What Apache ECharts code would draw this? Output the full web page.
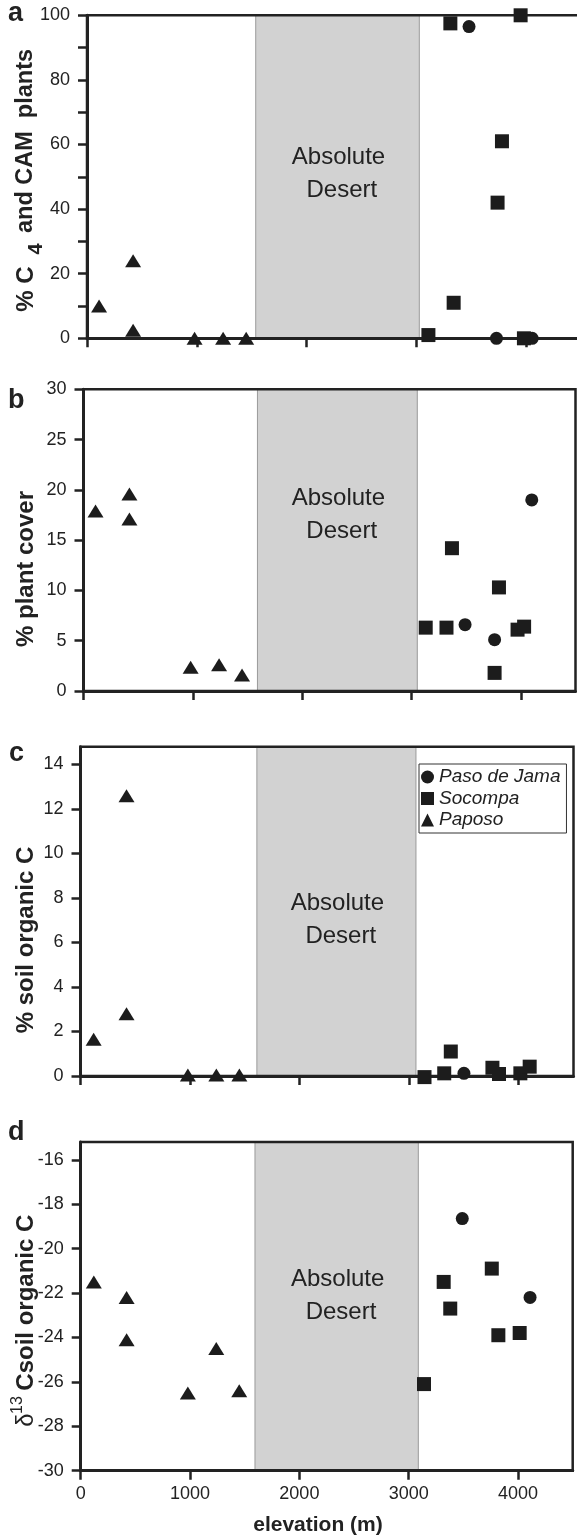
<!DOCTYPE html>
<html>
<head>
<meta charset="utf-8">
<script src="https://cdn.jsdelivr.net/npm/echarts@6/dist/echarts.min.js"></script>
<style>
html,body{margin:0;padding:0;background:#fff;}
#chart{width:577px;height:1538px;}
</style>
</head>
<body>
<div id="chart"></div>
<script>
// ---- shared axes / tick labels ----
const elevTicks = [0, 1000, 2000, 3000, 4000];
const siteNames = ['Paso de Jama', 'Socompa', 'Paposo'];

// ---- panel a: % C4 and CAM plants ----
const aDesert = [1537, 3027];
const aTicks = [0, 10, 20, 30, 40, 50, 60, 70, 80, 90, 100];
const aLabels = [0, 20, 40, 60, 80, 100];
const aPasoElev = [3480, 3730, 4055];
const aPasoVal = [96.5, 0, 0];
const aSocElev = [3110, 3310, 3340, 3740, 3780, 3950, 3980];
const aSocVal = [1, 97.5, 11, 42, 61, 100, 0];
const aPapElev = [110, 420, 420, 980, 1240, 1450];
const aPapVal = [10, 24, 2.5, 0, 0, 0];

// ---- panel b: % plant cover ----
const bDesert = [1591, 3053];
const bTicks = [0, 5, 10, 15, 20, 25, 30];
const bPasoElev = [3490, 3760, 4100];
const bPasoVal = [6.6, 5.1, 19];
const bSocElev = [3130, 3320, 3370, 3760, 3800, 3970, 4030];
const bSocVal = [6.3, 6.3, 14.2, 1.8, 10.3, 6.1, 6.4];
const bPapElev = [110, 420, 420, 980, 1240, 1450];
const bPapVal = [17.9, 19.6, 17.1, 2.35, 2.6, 1.6];

// ---- panel c: % soil organic C ----
const cDesert = [1610, 3062];
const cTicks = [0, 2, 4, 6, 8, 10, 12, 14];
const cPasoElev = [3500];
const cPasoVal = [0.12];
const cSocElev = [3140, 3320, 3380, 3760, 3820, 4015, 4100];
const cSocVal = [-0.05, 0.12, 1.1, 0.37, 0.09, 0.12, 0.42];
const cPapElev = [120, 420, 420, 980, 1240, 1450];
const cPapVal = [1.65, 12.6, 2.8, 0.05, 0.05, 0.05];

// ---- panel d: d13C soil organic C ----
const dDesert = [1594, 3088];
const dTicks = [-30, -28, -26, -24, -22, -20, -18, -16];
const dPasoElev = [3490, 4110];
const dPasoVal = [-18.65, -22.2];
const dSocElev = [3140, 3320, 3380, 3760, 3820, 4015];
const dSocVal = [-26.1, -21.5, -22.7, -20.9, -23.9, -23.8];
const dPapElev = [120, 420, 420, 980, 1240, 1450];
const dPapVal = [-21.5, -22.2, -24.1, -26.5, -24.5, -26.4];

const FONT = '"Liberation Sans", Arial, Helvetica, sans-serif';
const INK = '#222';
const MARK = '#1c1c1c';

const panels = [
  { grid: {left: 87, width: 494, top: 15.3, height: 323}, yMin: 0, yMax: 100, yTicks: aTicks, yLabels: aLabels, desert: aDesert,
    paso: [aPasoElev, aPasoVal], soc: [aSocElev, aSocVal], pap: [aPapElev, aPapVal], textOffset: [1, -3] },
  { grid: {left: 83.5, width: 492, top: 389.3, height: 301.7}, yMin: 0, yMax: 30, yTicks: bTicks, yLabels: bTicks, desert: bDesert,
    paso: [bPasoElev, bPasoVal], soc: [bSocElev, bSocVal], pap: [bPapElev, bPapVal], textOffset: [1, -25] },
  { grid: {left: 80.5, width: 493, top: 746.7, height: 329.3}, yMin: 0, yMax: 14.8, yTicks: cTicks, yLabels: cTicks, desert: cDesert,
    paso: [cPasoElev, cPasoVal], soc: [cSocElev, cSocVal], pap: [cPapElev, cPapVal], textOffset: [1, 8.5] },
  { grid: {left: 80.7, width: 492, top: 1142, height: 328.7}, yMin: -30, yMax: -15.2, yTicks: dTicks, yLabels: dTicks, desert: dDesert,
    paso: [dPasoElev, dPasoVal], soc: [dSocElev, dSocVal], pap: [dPapElev, dPapVal], textOffset: [1, -10] }
];

function pts(xs, ys) { return xs.map((x, i) => [x, ys[i]]); }
const plain = v => String(v);

const grids = [], xAxes = [], yAxes = [], series = [];
panels.forEach((p, i) => {
  grids.push(Object.assign({
    show: true, borderColor: INK, borderWidth: 2.5, backgroundColor: 'transparent', z: 2,
    containLabel: false, outerBoundsMode: 'none'
  }, p.grid));
  xAxes.push({
    type: 'value', gridIndex: i, min: 0, max: 4500, z: 2,
    axisLine: {show: true, onZero: false, lineStyle: {color: INK, width: 3}},
    axisTick: {show: true, inside: false, length: 9, customValues: elevTicks, lineStyle: {color: INK, width: 2.5}},
    axisLabel: {show: i === 3, customValues: elevTicks, formatter: plain, fontSize: 18, color: INK, fontFamily: FONT, margin: 14},
    splitLine: {show: false}, minorTick: {show: false}
  });
  yAxes.push({
    type: 'value', gridIndex: i, min: p.yMin, max: p.yMax, z: 2,
    axisLine: {show: true, onZero: false, lineStyle: {color: INK, width: 3}},
    axisTick: {show: true, inside: false, length: 9, customValues: p.yTicks, lineStyle: {color: INK, width: 2.5}},
    axisLabel: {show: true, customValues: p.yLabels, formatter: plain, fontSize: 18, color: INK, fontFamily: FONT, margin: 17},
    splitLine: {show: false}
  });
  const common = {type: 'scatter', xAxisIndex: i, yAxisIndex: i, clip: false, z: 3, silent: true,
                  itemStyle: {color: MARK, opacity: 1}, emphasis: {disabled: true}};
  series.push(Object.assign({}, common, {name: siteNames[0], symbol: 'circle', symbolSize: 13, data: pts(p.paso[0], p.paso[1])}));
  series.push(Object.assign({}, common, {name: siteNames[1], symbol: 'rect', symbolSize: 14, data: pts(p.soc[0], p.soc[1])}));
  series.push(Object.assign({}, common, {name: siteNames[2], symbol: 'triangle', symbolSize: [16, 13], data: pts(p.pap[0], p.pap[1]),
    markArea: {
      silent: true, z: 1,
      itemStyle: {color: '#d2d2d2', borderColor: '#9a9a9a', borderWidth: 1},
      label: {show: true, position: 'inside', formatter: 'Absolute\n Desert', fontSize: 24, lineHeight: 33,
              color: INK, fontFamily: FONT, offset: p.textOffset},
      data: [[{xAxis: p.desert[0]}, {xAxis: p.desert[1]}]]
    }}));
});

function vtext(x, y, text, size, weight) {
  return {type: 'text', x: x, y: y, rotation: Math.PI / 2, z: 10,
    style: {text: text, fontSize: size, fontWeight: weight || 'bold', fontFamily: FONT, fill: INK,
            align: 'center', verticalAlign: 'middle'}};
}
function htext(x, y, text, size, weight, align) {
  return {type: 'text', x: x, y: y, z: 10,
    style: {text: text, fontSize: size, fontWeight: weight || 'bold', fontFamily: FONT, fill: INK,
            align: align || 'left', verticalAlign: 'middle'}};
}

const graphics = [
  htext(8, 14, 'a', 27), htext(8, 401, 'b', 27), htext(9, 754, 'c', 27), htext(8, 1133, 'd', 27),
  vtext(26, 289, '% C', 24), vtext(36, 249, '4', 20), vtext(26, 141, 'and CAM  plants', 23.5),
  vtext(26, 569, '% plant cover', 24),
  vtext(26, 940, '% soil organic C', 24),
  vtext(26, 1420, 'δ', 24, 'normal'), vtext(18, 1405, '13', 16, 'normal'), vtext(26, 1306, ' Csoil organic C', 24),
  htext(318, 1525, 'elevation (m)', 21, 'bold', 'center')
];

const chart = echarts.init(document.getElementById('chart'), null, {renderer: 'canvas'});
chart.setOption({
  animation: false,
  backgroundColor: '#fff',
  textStyle: {fontFamily: FONT},
  grid: grids, xAxis: xAxes, yAxis: yAxes, series: series,
  legend: {
    data: siteNames, left: 419, top: 764, orient: 'vertical', itemGap: 1.5, itemWidth: 13, itemHeight: 13,
    padding: [3, 6, 3, 2], backgroundColor: '#fff', borderColor: '#333', borderWidth: 1, borderRadius: 0,
    selectedMode: false, z: 6,
    textStyle: {fontStyle: 'italic', fontSize: 19, color: INK, fontFamily: FONT, lineHeight: 20}
  },
  graphic: graphics
});
</script>
</body>
</html>
